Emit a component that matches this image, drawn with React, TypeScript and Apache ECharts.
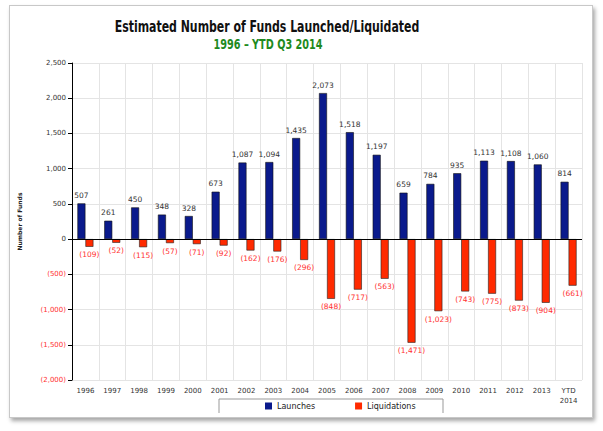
import React, { useEffect, useRef } from "react";
import * as echarts from "echarts";

const categories = ["1996", "1997", "1998", "1999", "2000", "2001", "2002", "2003", "2004", "2005", "2006", "2007", "2008", "2009", "2010", "2011", "2012", "2013", "YTD\n2014"];
const launches = [507, 261, 450, 348, 328, 673, 1087, 1094, 1435, 2073, 1518, 1197, 659, 784, 935, 1113, 1108, 1060, 814];
const liquidations = [-109, -52, -115, -57, -71, -92, -162, -176, -296, -848, -717, -563, -1471, -1023, -743, -775, -873, -904, -661];

const fmt = (v: number) => {
  const s = Math.abs(v).toLocaleString("en-US");
  return v < 0 ? `(${s})` : s;
};

export default function App() {
  const ref = useRef<HTMLDivElement>(null);
  useEffect(() => {
    const chart = echarts.init(ref.current!, undefined, { renderer: "svg" });
    const axisFont = '"DejaVu Sans", Verdana, sans-serif';
    const titleFont = '"DejaVu Sans Condensed", "Liberation Sans Narrow", sans-serif';
    chart.setOption({
      animation: false,
      legend: {
        left: 265,
        top: 402,
        padding: 0,
        itemWidth: 7,
        itemHeight: 7,
        itemGap: 40,
        icon: "rect",
        itemStyle: { borderWidth: 0 },
        textStyle: { fontFamily: axisFont, fontSize: 8, color: "#222" },
        data: ["Launches", "Liquidations"],
      },
      graphic: [
        {
          type: "text",
          x: 267,
          y: 26,
          scaleX: 0.76,
          style: {
            text: "Estimated Number of Funds Launched/Liquidated",
            font: `bold 16px ${titleFont}`,
            fill: "#111",
            align: "center",
            verticalAlign: "middle",
          },
          silent: true,
        },
        {
          type: "text",
          x: 268,
          y: 44,
          scaleX: 0.77,
          style: {
            text: "1996 – YTD Q3 2014",
            font: `bold 14px ${titleFont}`,
            fill: "#1e8a1e",
            align: "center",
            verticalAlign: "middle",
          },
          silent: true,
        },
        {
          type: "rect",
          shape: { x: 219, y: 399, width: 224, height: 30 },
          style: { fill: "none", stroke: "#999", lineWidth: 1 },
          silent: true,
        },
      ],
      grid: { left: 72, right: 21, top: 63, bottom: 33 },
      xAxis: {
        type: "category",
        data: categories,
        axisLine: { show: false },
        axisTick: { show: false },
        splitLine: { show: true, lineStyle: { color: "#e4e4e4", width: 1 } },
        axisLabel: { fontFamily: axisFont, fontSize: 7, color: "#333", margin: 6, lineHeight: 10, interval: 0 },
      },
      yAxis: {
        type: "value",
        min: -2000,
        max: 2500,
        interval: 500,
        name: "Number of Funds",
        nameLocation: "middle",
        nameGap: 50,
        nameTextStyle: { fontFamily: axisFont, fontSize: 6, fontWeight: "bold", color: "#222" },
        axisLine: { show: true, lineStyle: { color: "#000", width: 1 } },
        axisTick: { show: true, length: 4, lineStyle: { color: "#000" } },
        splitLine: { show: true, lineStyle: { color: "#e4e4e4", width: 1 } },
        axisLabel: {
          fontFamily: axisFont,
          fontSize: 7,
          margin: 6,
          formatter: (v: number) => (v < 0 ? `{n|${fmt(v)}}` : fmt(v)),
          color: "#333",
          rich: { n: { color: "#ff3030", fontFamily: axisFont, fontSize: 7 } },
        },
      },
      series: [
        {
          name: "Launches",
          type: "bar",
          data: launches,
          barWidth: 8,
          barGap: "0%",
          itemStyle: { color: "#0a1a8c", borderColor: "#111", borderWidth: 0.6 },
          label: {
            show: true,
            position: "top",
            distance: 4,
            formatter: (p: any) => fmt(p.value),
            fontFamily: axisFont,
            fontSize: 7.5,
            color: "#333",
          },
          markLine: {
            silent: true,
            symbol: "none",
            label: { show: false },
            lineStyle: { color: "#000", width: 1, type: "solid" },
            data: [{ yAxis: 0 }],
          },
        },
        {
          name: "Liquidations",
          type: "bar",
          data: liquidations,
          barWidth: 8,
          barGap: "0%",
          itemStyle: { color: "#ff2a00", borderColor: "#222", borderWidth: 0.6 },
          label: {
            show: true,
            position: "bottom",
            distance: 4,
            formatter: (p: any) => fmt(p.value),
            fontFamily: axisFont,
            fontSize: 7.5,
            color: "#ff3030",
          },
        },
      ],
    });
    return () => chart.dispose();
  }, []);

  return (
    <div style={{ position: "fixed", left: 0, top: 0, width: 603, height: 431, background: "#fff" }}>
      <div
        style={{
          position: "absolute",
          left: 9,
          top: 5,
          width: 582,
          height: 411,
          border: "1px solid #c8c8c8",
          boxShadow: "2px 3px 4px rgba(0,0,0,0.35)",
          background: "#fff",
        }}
      />
      <div ref={ref} style={{ position: "absolute", left: 0, top: 0, width: 603, height: 413, overflow: "hidden" }} />
    </div>
  );
}
